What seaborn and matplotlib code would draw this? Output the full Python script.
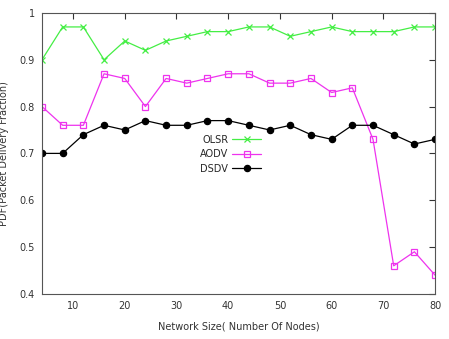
import matplotlib
matplotlib.use('Agg')
import matplotlib.pyplot as plt
import seaborn as sns
import pandas as pd

nodes = [4, 8, 12, 16, 20, 24, 28, 32, 36, 40, 44, 48, 52, 56, 60, 64, 68, 72, 76, 80]
olsr = [0.90, 0.97, 0.97, 0.90, 0.94, 0.92, 0.94, 0.95, 0.96, 0.96,
        0.97, 0.97, 0.95, 0.96, 0.97, 0.96, 0.96, 0.96, 0.97, 0.97]
aodv = [0.80, 0.76, 0.76, 0.87, 0.86, 0.80, 0.86, 0.85, 0.86, 0.87,
        0.87, 0.85, 0.85, 0.86, 0.83, 0.84, 0.73, 0.46, 0.49, 0.44]
dsdv = [0.70, 0.70, 0.74, 0.76, 0.75, 0.77, 0.76, 0.76, 0.77, 0.77,
        0.76, 0.75, 0.76, 0.74, 0.73, 0.76, 0.76, 0.74, 0.72, 0.73]
protocols = ["OLSR", "AODV", "DSDV"]

df = pd.DataFrame({"nodes": nodes * 3,
                   "pdf": olsr + aodv + dsdv,
                   "protocol": [p for p in protocols for _ in nodes]})

sns.set_style("white")
plt.rcParams['font.family'] = ['DejaVu Sans']

fig = plt.figure(figsize=(4.49, 3.39), dpi=100)
ax = fig.add_axes([0.0935, 0.133, 0.8755, 0.829])

styles = {
    "OLSR": dict(color="#44ee44", marker="x", mfc="#44ee44", ms=4.5),
    "AODV": dict(color="#ee33ee", marker="s", mfc="none", ms=4.5),
    "DSDV": dict(color="black", marker="o", mfc="black", ms=4.5),
}
for name in protocols:
    st = styles[name]
    sns.lineplot(data=df[df["protocol"] == name], x="nodes", y="pdf", ax=ax,
                 color=st["color"], marker=st["marker"], markersize=st["ms"],
                 markerfacecolor=st["mfc"], markeredgecolor=st["color"],
                 markeredgewidth=0.9, linewidth=0.9, label=name)

ax.set_xlim(4, 80)
ax.set_ylim(0.4, 1.0)
ax.set_xticks([10, 20, 30, 40, 50, 60, 70, 80])
ax.set_yticks([0.4, 0.5, 0.6, 0.7, 0.8, 0.9, 1.0])
ax.set_yticklabels(["0.4", "0.5", "0.6", "0.7", "0.8", "0.9", "1"])
ax.tick_params(direction="in", top=True, right=True, length=4, width=0.8,
               labelsize=7, colors="#333333", pad=5)
for s in ax.spines.values():
    s.set_color("#555555")
    s.set_linewidth(0.8)

ax.set_xlabel("Network Size( Number Of Nodes)", fontsize=7, color="#333333", labelpad=8)
ax.set_ylabel("PDF(Packet Delivery Fraction)", fontsize=7, color="#333333", labelpad=8)

ax.legend(loc="center", bbox_to_anchor=(0.48, 0.497), frameon=False, markerfirst=False,
          fontsize=7, handlelength=3, labelspacing=0.45, handletextpad=0.4)

plt.savefig("out.png", dpi=100)
